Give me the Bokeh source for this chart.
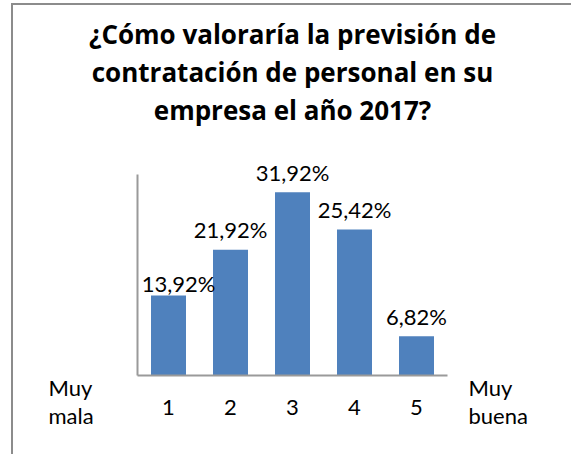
from bokeh.plotting import figure
from bokeh.models import ColumnDataSource, Title, Label, FactorRange, Range1d
from bokeh.core.properties import value
from bokeh.embed import file_html
from bokeh.resources import INLINE

# ---- data ----
categories = ["1", "2", "3", "4", "5"]
percentages = [13.92, 21.92, 31.92, 25.42, 6.82]
value_labels = ["13,92%", "21,92%", "31,92%", "25,42%", "6,82%"]
title_lines = ["¿Cómo valoraría la previsión de",
               "contratación de personal en su",
               "empresa el año 2017?"]
left_end_label = "Muy\nmala"
right_end_label = "Muy\nbuena"

# ---- label tweaks (screen px) ----
label_dx = [10, 0, 0, 0, 0]
label_dy = [-12, -20, -20, -20, -20]

BAR = "#4F81BD"
AXIS = "#9a9a9a"
FONT = "Lato"
TFONT = "Open Sans"

src = ColumnDataSource(dict(cat=categories, pct=percentages, lab=value_labels,
                            dx=label_dx, dy=label_dy))

x_range = FactorRange(*categories, range_padding=2, range_padding_units="absolute")
p = figure(frame_width=558, frame_height=327, output_backend="svg", toolbar_location=None,
           x_range=x_range, y_range=Range1d(-13.76, 43.2),
           title=None, min_border_left=0, min_border_right=0,
           min_border_bottom=0, min_border_top=122)
p.margin = (3, 0, 0, 11)
p.styles = {"border-top": "2px solid #8c8c8c", "border-left": "2px solid #8c8c8c"}

# title lines: added closest-to-frame first
for line in reversed(title_lines):
    p.add_layout(Title(text=line, align="center", text_font=TFONT,
                       text_font_size="26px", text_font_style="bold",
                       text_color="black", standoff=0), "above")

p.vbar(x="cat", top="pct", width=35 / 62, source=src, fill_color=BAR, line_color=None)
p.text(x="cat", y="pct", text="lab", source=src, x_offset="dx", y_offset="dy",
       text_align="center", text_baseline="alphabetic",
       text_font=value(FONT), text_font_size="22px", text_color="black")

p.add_layout(Label(x=35, y=81, x_units="screen", y_units="screen",
                   text=left_end_label, text_align="left", text_baseline="top",
                   text_font=FONT, text_font_size="22px",
                   text_line_height=1.05, text_color="black"))
p.add_layout(Label(x=455, y=81, x_units="screen", y_units="screen",
                   text=right_end_label, text_align="left", text_baseline="top",
                   text_font=FONT, text_font_size="22px",
                   text_line_height=1.05, text_color="black"))

p.xgrid.grid_line_color = None
p.ygrid.grid_line_color = None
p.outline_line_color = None

p.xaxis.fixed_location = 0
p.xaxis.bounds = (0, 5)
p.xaxis.axis_line_color = AXIS
p.xaxis.axis_line_width = 2
p.xaxis.major_tick_line_color = None
p.xaxis.minor_tick_line_color = None
p.xaxis.major_label_text_font = FONT
p.xaxis.major_label_text_font_size = "22px"
p.xaxis.major_label_text_color = "black"
p.xaxis.major_label_standoff = 18

p.yaxis.fixed_location = 0
p.yaxis.bounds = (0, 35)
p.yaxis.axis_line_color = AXIS
p.yaxis.axis_line_width = 2
p.yaxis.major_tick_line_color = None
p.yaxis.minor_tick_line_color = None
p.yaxis.major_label_text_color = None
p.yaxis.major_label_text_font_size = "0px"
p.yaxis.major_label_standoff = 0

open("out.html", "w").write(file_html(p, INLINE))
